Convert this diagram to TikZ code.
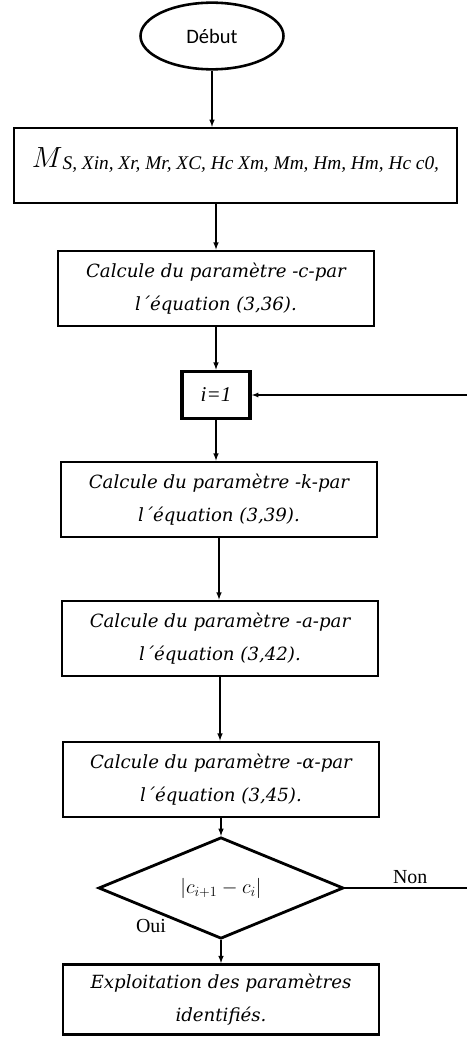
\documentclass[tikz,border=0pt]{standalone}
\usepackage{fontspec}
\setmainfont{Liberation Serif}
\newfontfamily\boitefont{DejaVu Serif}
\newfontfamily\debutfont{Carlito}
\usepackage{amsmath}
\usetikzlibrary{arrows, shapes.geometric}

\tikzset{
    boite/.style={draw, line width=2.4pt, minimum width=9.48cm, minimum height=2.25cm,
        align=center, inner sep=2pt, font=\boitefont\itshape\fontsize{15.5}{28}\selectfont},
    fleche/.style={->, >=latex, line width=1.1pt}
}

\begin{document}
\begin{tikzpicture}[x=0.03cm, y=-0.03cm]
    \useasboundingbox (0,0) rectangle (466,1038);

    % Début
    \node[draw, ellipse, line width=2.2pt, minimum width=4.29cm, minimum height=2cm,
        font=\debutfont\fontsize{17.5}{20}\selectfont] (debut) at (212,36) {Début};

    % Les données
    \node[draw, line width=2pt, minimum width=13.29cm, minimum height=2.25cm, text depth=0.5cm]
        (donnees) at (235.5,165.5)
        {{\fontsize{25}{28}\selectfont$M$}\raisebox{-2pt}{\fontsize{16.5}{18}\selectfont\itshape S, Xin, Xr, Mr, XC, Hc Xm, Mm, Hm, Hm, Hc c0,}};

    % Les calculs
    \node[boite] (calc_c) at (216,288.5) {Calcule du paramètre -c-par\\ l´équation (3,36).};
    \node[draw, line width=3.2pt, minimum width=2.04cm, minimum height=1.41cm,
        font=\itshape\fontsize{18}{20}\selectfont] (init) at (216,395) {i=1};
    \node[boite] (calc_k) at (219,499.5) {Calcule du paramètre -k-par\\ l´équation (3,39).};
    \node[boite] (calc_a) at (220,638.5) {Calcule du paramètre -a-par\\ l´équation (3,42).};
    \node[boite] (calc_alpha) at (221,779.5) {Calcule du paramètre -α-par\\ l´équation (3,45).};

    % Le test
    \node[draw, diamond, line width=2.4pt, minimum width=7.35cm, minimum height=2.55cm, inner sep=0pt,
        font=\fontsize{17}{20}\selectfont] (test) at (221,888) {$|c_{i+1}-c_i|$};
    \node[font=\fontsize{17}{20}\selectfont] (oui) at (151,926) {Oui};

    % Fin
    \node[boite, minimum height=2.1cm] (exploit) at (221,999.5) {Exploitation des paramètres\\ identifiés.};

    % Les flèches
    \draw[fleche] (debut) -- (debut |- donnees.north);
    \draw[fleche] (donnees.south -| calc_c) -- (calc_c);
    \draw[fleche] (calc_c) -- (init);
    \draw[fleche] (init) -- (init |- calc_k.north);
    \draw[fleche] (calc_k) -- (calc_k |- calc_a.north);
    \draw[fleche] (calc_a) -- (calc_a |- calc_alpha.north);
    \draw[fleche] (calc_alpha) -- (test);
    \draw[fleche] (test) -- (exploit);

    % Retour vers i=1
    \coordinate (retour) at (490,395);
    \draw[fleche, line width=0.9pt] (test.east) -- node[pos=0.45, above, font=\fontsize{17}{20}\selectfont] {Non}
        (test.east -| retour) -- (retour) -- (init.east);
\end{tikzpicture}
\end{document}
